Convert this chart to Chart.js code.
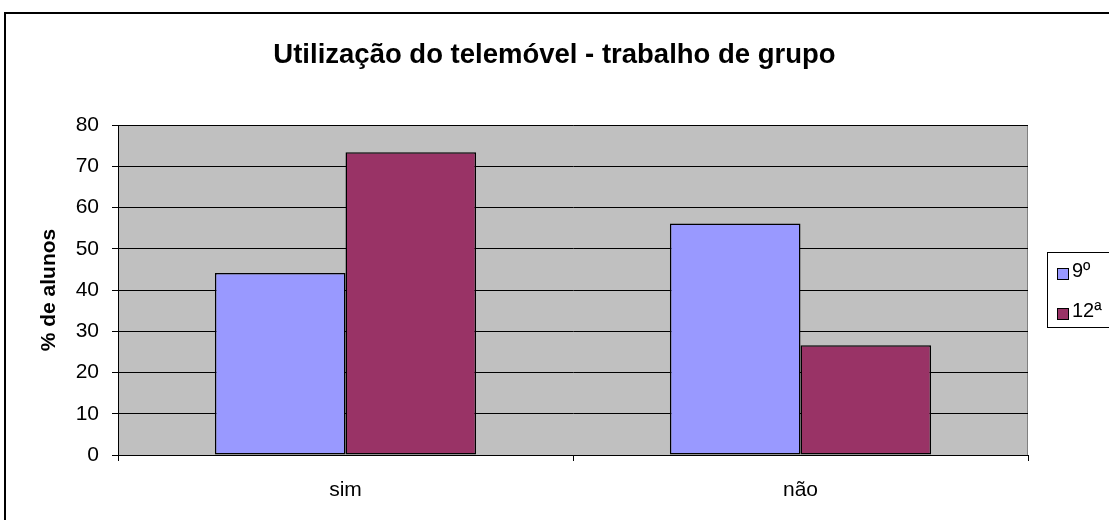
<!DOCTYPE html>
<html lang="pt">
<head>
    <meta charset="UTF-8">
    <title>Utilização do telemóvel - trabalho de grupo</title>
    <script src="https://cdn.jsdelivr.net/npm/chart.js"></script>
    <style>
        html, body { margin: 0; padding: 0; background: #fff; }
        #wrap { width: 1109px; height: 520px; position: relative; }
    </style>
</head>
<body>
    <div id="wrap"><canvas id="chart"></canvas></div>

    <script>
        // chart data
        const categories = ['sim', 'não'];
        const seriesNames = ['9º', '12ª'];
        const valores9 = [44.1, 56.1];
        const valores12 = [73.4, 26.6];
        const yTicks = [0, 10, 20, 30, 40, 50, 60, 70, 80];

        const FONT = '"Liberation Sans", Arial, sans-serif';

        // grey plot background + outer frame, like the old Excel chart
        const frame = {
            id: 'frame',
            beforeDraw(chart) {
                const { ctx, chartArea: a } = chart;
                ctx.save();
                ctx.fillStyle = '#C0C0C0';
                ctx.fillRect(a.left, a.top, a.right - a.left, a.bottom - a.top);
                ctx.strokeStyle = '#808080';
                ctx.lineWidth = 1;
                ctx.strokeRect(a.left + 0.5, a.top + 0.5, a.right - a.left - 1, a.bottom - a.top);
                ctx.strokeStyle = '#000';
                ctx.lineWidth = 2;
                ctx.strokeRect(5, 13, 1120, 520);
                ctx.restore();
            },
            afterDraw(chart) {
                // legend box on the right, cut at the edge like the picture
                const { ctx } = chart;
                ctx.save();
                ctx.strokeStyle = '#000';
                ctx.lineWidth = 1;
                ctx.fillStyle = '#fff';
                ctx.fillRect(1047, 252, 80, 75);
                ctx.strokeRect(1047.5, 252.5, 80, 75);
                ctx.font = '20px ' + FONT;
                ctx.textBaseline = 'middle';
                chart.data.datasets.forEach((ds, i) => {
                    const y = 273 + i * 40;
                    ctx.fillStyle = ds.backgroundColor;
                    ctx.fillRect(1057, y - 5, 11, 11);
                    ctx.strokeRect(1057.5, y - 4.5, 11, 11);
                    ctx.fillStyle = '#000';
                    ctx.fillText(ds.label, 1072, y - 2);
                });
                ctx.restore();
            }
        };

        new Chart(document.getElementById('chart'), {
            type: 'bar',
            data: {
                labels: categories,
                datasets: [{
                    label: seriesNames[0],
                    data: valores9,
                    backgroundColor: '#9999FF',
                    borderColor: '#000',
                    borderWidth: 1.5,
                    borderSkipped: false
                }, {
                    label: seriesNames[1],
                    data: valores12,
                    backgroundColor: '#993366',
                    borderColor: '#000',
                    borderWidth: 1.5,
                    borderSkipped: false
                }]
            },
            options: {
                responsive: true,
                maintainAspectRatio: false,
                animation: false,
                categoryPercentage: 0.574,
                barPercentage: 1,
                layout: { padding: 0 },
                plugins: {
                    legend: { display: false },
                    tooltip: { enabled: false },
                    title: {
                        display: true,
                        text: 'Utilização do telemóvel - trabalho de grupo',
                        color: '#000',
                        font: { family: FONT, size: 27.5, weight: 'bold' },
                        padding: { top: 38.5, bottom: 53.5 }
                    }
                },
                scales: {
                    x: {
                        afterFit(scale) { scale.height = 65; },
                        grid: {
                            offset: true,
                            drawOnChartArea: false,
                            drawTicks: true,
                            tickLength: 6,
                            color: '#000'
                        },
                        border: { color: '#000', width: 1 },
                        ticks: {
                            color: '#000',
                            padding: 17,
                            font: { family: FONT, size: 21 }
                        }
                    },
                    y: {
                        min: 0,
                        max: 80,
                        afterFit(scale) { scale.width = 118; },
                        afterBuildTicks(scale) { scale.ticks = yTicks.map(v => ({ value: v })); },
                        grid: {
                            color: '#000',
                            tickLength: 6,
                            lineWidth: 1
                        },
                        border: { color: '#000', width: 1 },
                        ticks: {
                            color: '#000',
                            padding: 13,
                            font: { family: FONT, size: 21 }
                        },
                        title: {
                            display: true,
                            text: '% de alunos',
                            color: '#000',
                            font: { family: FONT, size: 21, weight: 'bold' },
                            padding: { top: 37, bottom: 0 }
                        }
                    },
                    // empty right-hand space where the legend sits
                    yRight: {
                        position: 'right',
                        afterFit(scale) { scale.width = 81; },
                        grid: { display: false },
                        border: { display: false },
                        ticks: { display: false }
                    }
                }
            },
            plugins: [frame]
        });
    </script>
</body>
</html>
